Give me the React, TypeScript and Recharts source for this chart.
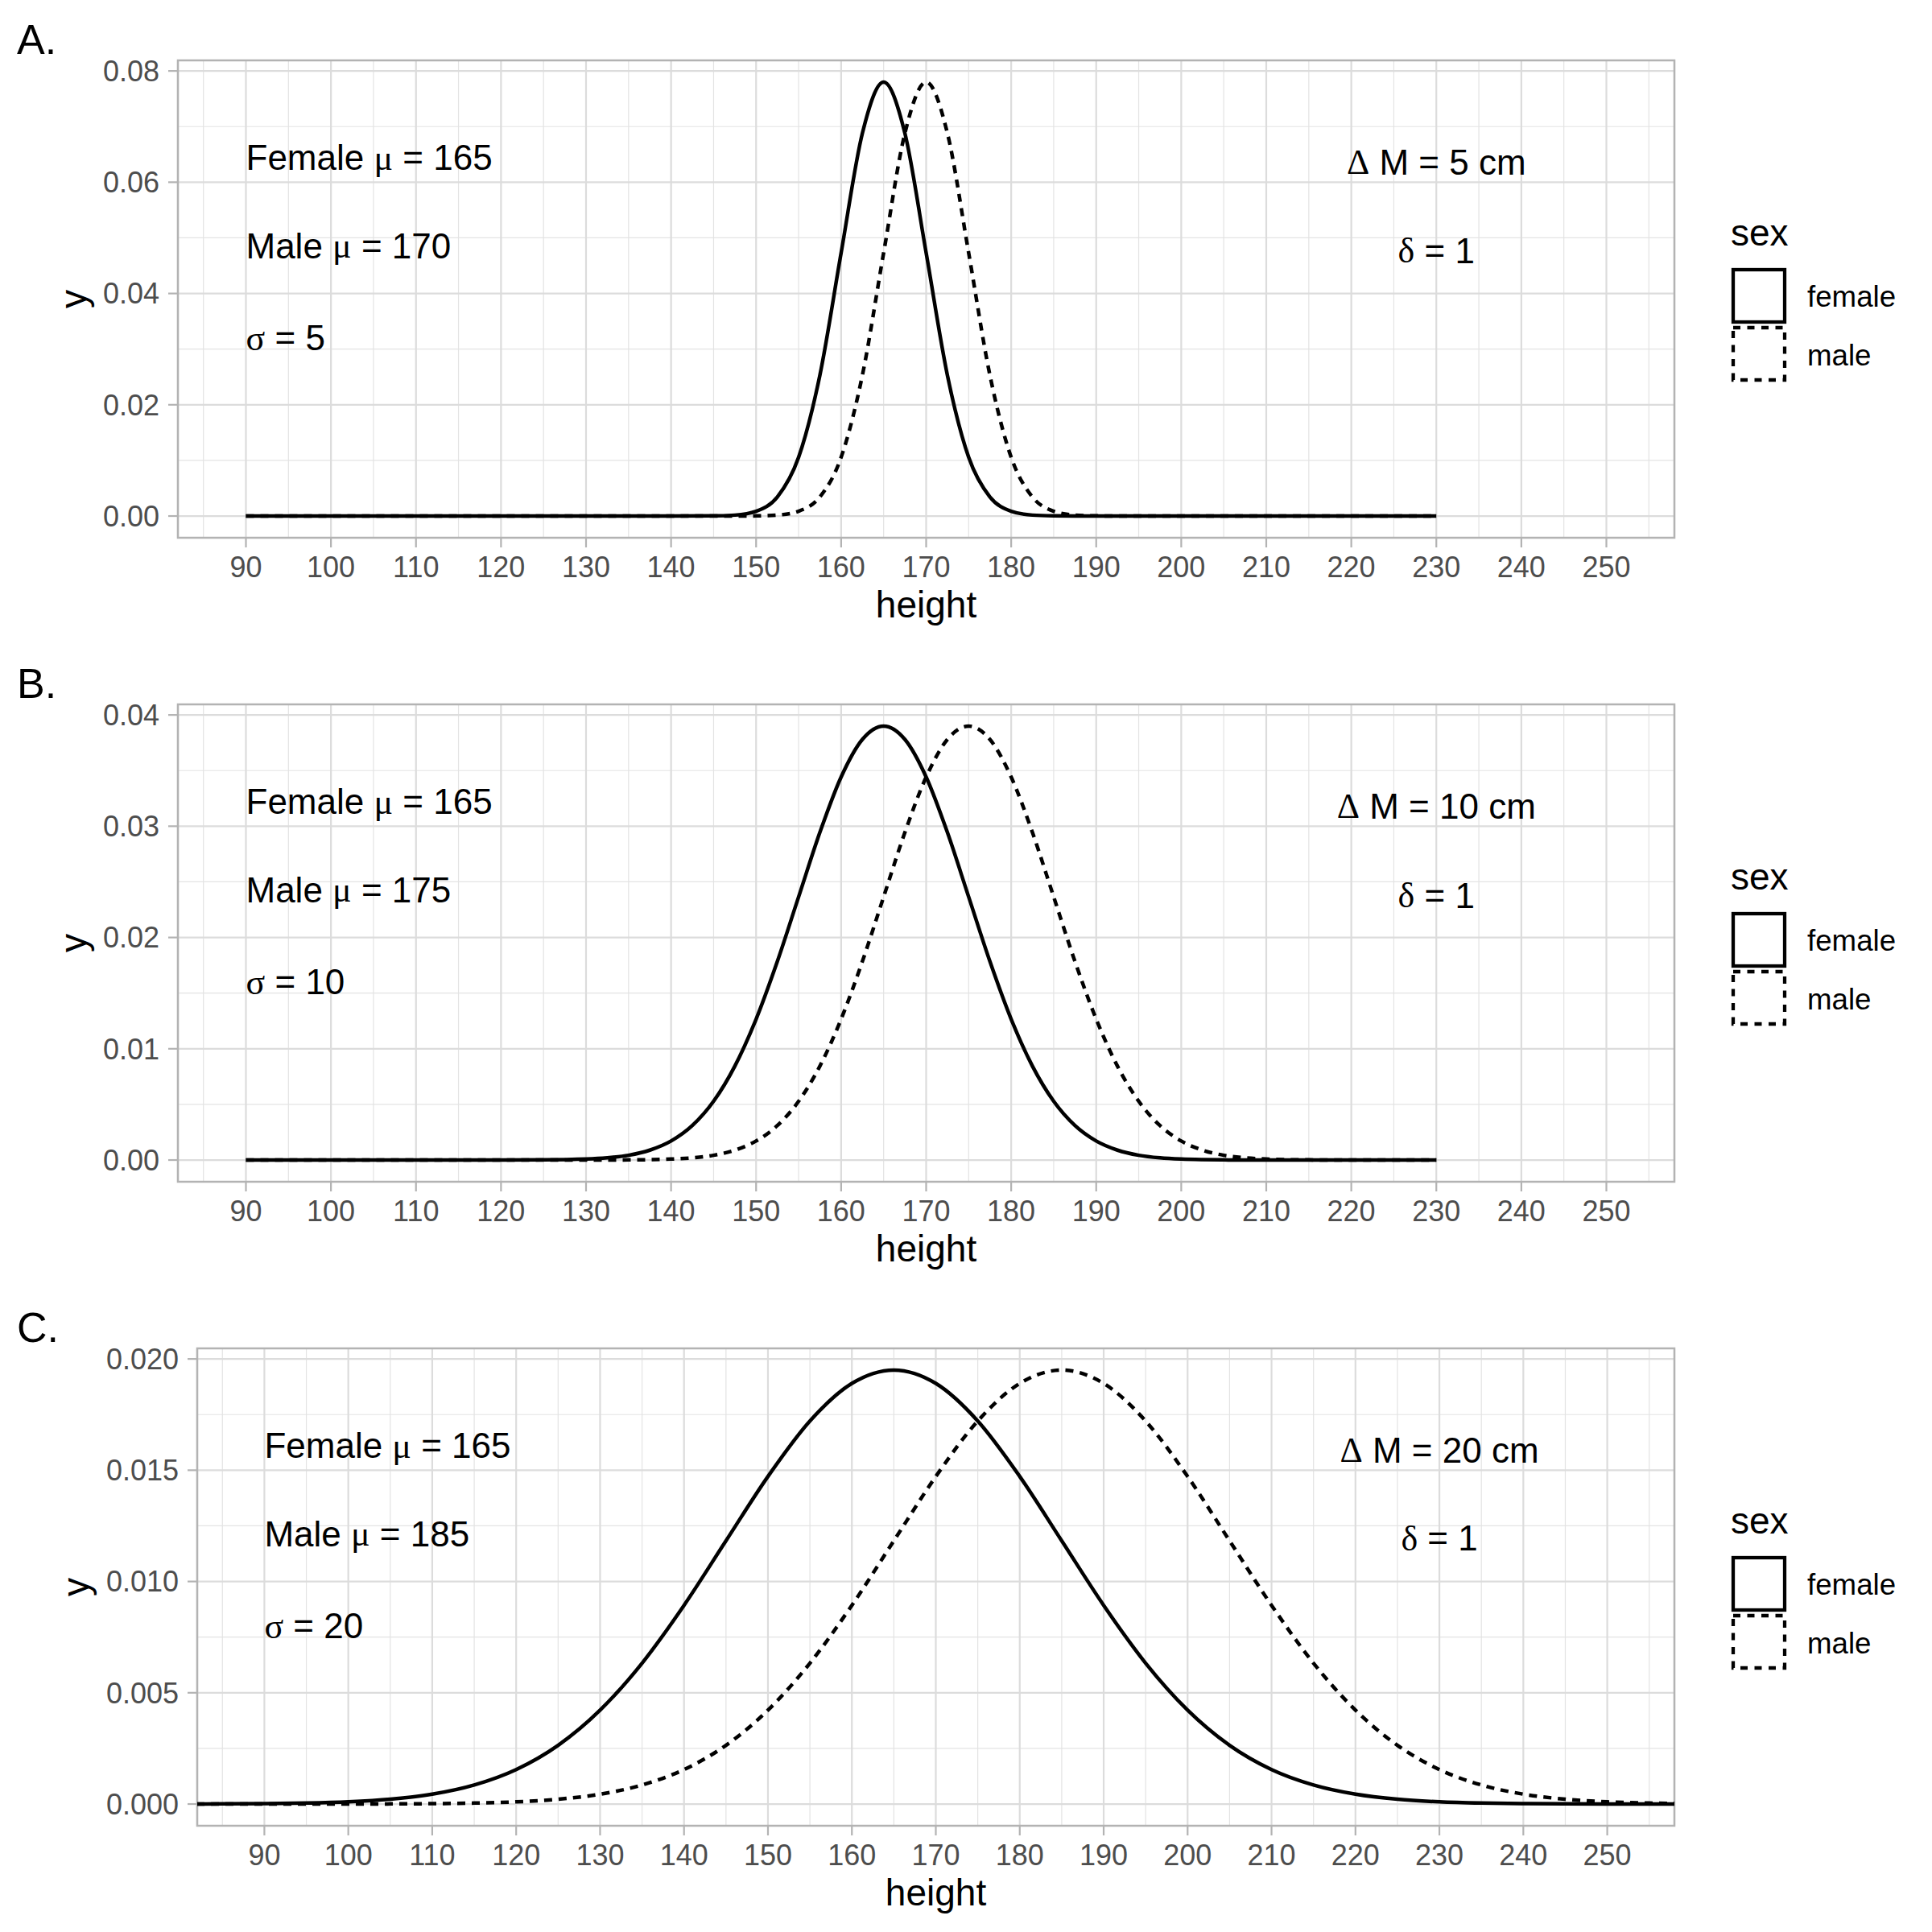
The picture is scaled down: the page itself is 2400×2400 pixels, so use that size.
import React from 'react'
import { LineChart, Line, XAxis, YAxis, CartesianGrid, ReferenceDot, ReferenceArea } from 'recharts'

const SANS = '"Liberation Sans", Arial, Helvetica, sans-serif'
const SERIF = '"Liberation Serif", "DejaVu Serif", serif'

// shared x axis
const X_DOMAIN = [82, 258]
const X_TICKS = [90, 100, 110, 120, 130, 140, 150, 160, 170, 180, 190, 200, 210, 220, 230, 240, 250]
const X_MINOR = [85, 95, 105, 115, 125, 135, 145, 155, 165, 175, 185, 195, 205, 215, 225, 235, 245, 255]

// panel A
const heightsA = [90, 100, 110, 120, 130, 140, 145, 147.5, 150, 152.5, 155, 157.5, 160, 162.5, 165, 167.5, 170, 172.5, 175, 177.5, 180, 182.5, 185, 187.5, 190, 192.5, 195, 200, 210, 220, 230]
const femaleA = [0, 0, 0, 0, 0, 0, 0.00003, 0.00017, 0.00087, 0.00343, 0.01056, 0.0253, 0.0473, 0.0688, 0.078, 0.0688, 0.0473, 0.0253, 0.01056, 0.00343, 0.00087, 0.00017, 0.00003, 0, 0, 0, 0, 0, 0, 0, 0]
const maleA = [0, 0, 0, 0, 0, 0, 0, 0, 0.00003, 0.00017, 0.00087, 0.00343, 0.01056, 0.0253, 0.0473, 0.0688, 0.078, 0.0688, 0.0473, 0.0253, 0.01056, 0.00343, 0.00087, 0.00017, 0.00003, 0, 0, 0, 0, 0, 0]

// panel B
const heightsB = [90, 95, 100, 105, 110, 115, 120, 125, 130, 132.5, 135, 137.5, 140, 142.5, 145, 147.5, 150, 152.5, 155, 157.5, 160, 162.5, 165, 167.5, 170, 172.5, 175, 177.5, 180, 182.5, 185, 187.5, 190, 192.5, 195, 197.5, 200, 202.5, 205, 207.5, 210, 212.5, 215, 217.5, 220, 225, 230]
const femaleB = [0, 0, 0, 0, 0, 0, 0.0000016, 0.000013, 0.000085, 0.000198, 0.00043, 0.000889, 0.00171, 0.0031, 0.00528, 0.00844, 0.01266, 0.01785, 0.02365, 0.02944, 0.03442, 0.0378, 0.039, 0.0378, 0.03442, 0.02944, 0.02365, 0.01785, 0.01266, 0.00844, 0.00528, 0.0031, 0.00171, 0.000889, 0.00043, 0.000198, 0.000085, 0.0000345, 0.000013, 0.0000047, 0.0000016, 0.0000005, 0.0000002, 0, 0, 0, 0]
const maleB = [0, 0, 0, 0, 0, 0, 0, 0, 0.0000016, 0.0000047, 0.000013, 0.0000345, 0.000085, 0.000198, 0.00043, 0.000889, 0.00171, 0.0031, 0.00528, 0.00844, 0.01266, 0.01785, 0.02365, 0.02944, 0.03442, 0.0378, 0.039, 0.0378, 0.03442, 0.02944, 0.02365, 0.01785, 0.01266, 0.00844, 0.00528, 0.0031, 0.00171, 0.000889, 0.00043, 0.000198, 0.000085, 0.0000345, 0.000013, 0.0000047, 0.0000016, 0.0000002, 0]

// panel C
const heightsC = [75, 80, 85, 90, 95, 100, 105, 110, 115, 120, 125, 130, 135, 140, 145, 150, 155, 160, 165, 170, 175, 180, 185, 190, 195, 200, 205, 210, 215, 220, 225, 230, 235, 240, 245, 250, 255, 260, 265]
const femaleC = [0.0000008, 0.0000023, 0.0000065, 0.0000172, 0.0000426, 0.0000992, 0.000217, 0.000444, 0.000857, 0.00155, 0.00264, 0.00422, 0.00633, 0.00893, 0.01183, 0.01472, 0.01721, 0.0189, 0.0195, 0.0189, 0.01721, 0.01472, 0.01183, 0.00893, 0.00633, 0.00422, 0.00264, 0.00155, 0.000857, 0.000444, 0.000217, 0.0000992, 0.0000426, 0.0000172, 0.0000065, 0.0000023, 0.0000008, 0.0000003, 0.0000001]
const maleC = [0, 0, 0.0000001, 0.0000003, 0.0000008, 0.0000023, 0.0000065, 0.0000172, 0.0000426, 0.0000992, 0.000217, 0.000444, 0.000857, 0.00155, 0.00264, 0.00422, 0.00633, 0.00893, 0.01183, 0.01472, 0.01721, 0.0189, 0.0195, 0.0189, 0.01721, 0.01472, 0.01183, 0.00893, 0.00633, 0.00422, 0.00264, 0.00155, 0.000857, 0.000444, 0.000217, 0.0000992, 0.0000426, 0.0000172, 0.0000065]

const panels = [
  {
    letter: 'A.', heights: heightsA, female: femaleA, male: maleA,
    yDomain: [-0.0039, 0.0819], yTicks: [0, 0.02, 0.04, 0.06, 0.08], yMinor: [0.01, 0.03, 0.05, 0.07], digits: 2,
    muF: '165', muM: '170', sigma: '5', dM: '5',
    noteY: [0.0644, 0.0486, 0.032, 0.0636, 0.0477],
  },
  {
    letter: 'B.', heights: heightsB, female: femaleB, male: maleB,
    yDomain: [-0.00195, 0.04095], yTicks: [0, 0.01, 0.02, 0.03, 0.04], yMinor: [0.005, 0.015, 0.025, 0.035], digits: 2,
    muF: '165', muM: '175', sigma: '10', dM: '10',
    noteY: [0.0322, 0.0243, 0.016, 0.0318, 0.0238],
  },
  {
    letter: 'C.', heights: heightsC, female: femaleC, male: maleC,
    yDomain: [-0.000975, 0.020475], yTicks: [0, 0.005, 0.01, 0.015, 0.02], yMinor: [0.0025, 0.0075, 0.0125, 0.0175], digits: 3,
    muF: '165', muM: '185', sigma: '20', dM: '20',
    noteY: [0.0161, 0.01215, 0.008, 0.0159, 0.01194],
  },
]

const note = (key: string, x: number, y: number, anchor: string, content: React.ReactNode) => (
  <ReferenceDot
    key={key}
    x={x}
    y={y}
    r={0}
    ifOverflow="visible"
    shape={(p: any) => (
      <text x={p.cx} y={p.cy} textAnchor={anchor} dominantBaseline="central" fontSize={44} fontFamily={SANS} fill="#000">
        {content}
      </text>
    )}
  />
)

function Panel({ p }: { p: (typeof panels)[number] }) {
  const data = p.heights.map((h, i) => ({ height: h, female: p.female[i], male: p.male[i] }))
  const yWidth = p.digits === 3 ? 245 : 221
  const tick = { fill: '#4D4D4D', fontSize: 36, fontFamily: SANS }
  return (
    <div style={{ position: 'relative', width: 2400, height: 800 }}>
      <LineChart width={2400} height={800} data={data} margin={{ top: 75, right: 320, bottom: 0, left: 0 }}>
        <XAxis xAxisId="minor" type="number" dataKey="height" domain={X_DOMAIN} ticks={X_MINOR} interval={0} allowDataOverflow hide />
        <YAxis yAxisId="minor" type="number" domain={p.yDomain} ticks={p.yMinor} interval={0} allowDataOverflow hide />
        <CartesianGrid xAxisId="minor" yAxisId="minor" stroke="#E3E3E3" strokeWidth={1.2} />
        <CartesianGrid stroke="#DCDCDC" strokeWidth={2.2} />
        <XAxis
          type="number"
          dataKey="height"
          domain={X_DOMAIN}
          ticks={X_TICKS}
          interval={0}
          allowDataOverflow
          height={132}
          axisLine={false}
          tickSize={12}
          tickMargin={11}
          tickLine={{ stroke: '#B3B3B3', strokeWidth: 2.2 }}
          tick={tick}
          label={{ value: 'height', position: 'insideBottom', offset: 33, fontSize: 46, fill: '#000', fontFamily: SANS }}
        />
        <YAxis
          type="number"
          domain={p.yDomain}
          ticks={p.yTicks}
          interval={0}
          allowDataOverflow
          width={yWidth}
          axisLine={false}
          tickSize={12}
          tickMargin={11}
          tickLine={{ stroke: '#B3B3B3', strokeWidth: 2.2 }}
          tick={tick}
          tickFormatter={(v: number) => v.toFixed(p.digits)}
          label={{
            content: (lp: any) => {
              const vb = lp.viewBox || {}
              const cx = p.digits === 3 ? 110 : 107
              const cy = (vb.y ?? 75) + (vb.height ?? 592) / 2
              return (
                <text x={cx} y={cy} transform={`rotate(-90 ${cx} ${cy})`} textAnchor="middle" fontSize={46} fontFamily={SANS} fill="#000">
                  y
                </text>
              )
            },
          }}
        />
        <ReferenceArea x1={X_DOMAIN[0]} x2={X_DOMAIN[1]} y1={p.yDomain[0]} y2={p.yDomain[1]} fill="none" fillOpacity={0} stroke="#B3B3B3" strokeWidth={2.5} ifOverflow="visible" />
        <Line type="monotone" dataKey="female" stroke="#000" strokeWidth={4.5} dot={false} activeDot={false} isAnimationActive={false} />
        <Line type="monotone" dataKey="male" stroke="#000" strokeWidth={4.5} strokeDasharray="10 8" dot={false} activeDot={false} isAnimationActive={false} />
        {note('f', 90, p.noteY[0], 'start', <>Female <tspan fontFamily={SERIF}>μ</tspan> = {p.muF}</>)}
        {note('m', 90, p.noteY[1], 'start', <>Male <tspan fontFamily={SERIF}>μ</tspan> = {p.muM}</>)}
        {note('s', 90, p.noteY[2], 'start', <><tspan fontFamily={SERIF}>σ</tspan> = {p.sigma}</>)}
        {note('d', 230, p.noteY[3], 'middle', <><tspan fontFamily={SERIF}>Δ</tspan> M = {p.dM} cm</>)}
        {note('e', 230, p.noteY[4], 'middle', <><tspan fontFamily={SERIF}>δ</tspan> = 1</>)}
      </LineChart>
      <svg width={2400} height={800} style={{ position: 'absolute', left: 0, top: 0, pointerEvents: 'none' }}>
        <text x={21} y={67} fontSize={52} fontFamily={SANS} fill="#000">{p.letter}</text>
        <text x={2150} y={305} fontSize={46} fontFamily={SANS} fill="#000">sex</text>
        <rect x={2153} y={335} width={64} height={65} fill="none" stroke="#000" strokeWidth={4.3} />
        <rect x={2153} y={407} width={64} height={65} fill="none" stroke="#000" strokeWidth={4.3} strokeDasharray="9 8.5" />
        <text x={2245} y={381} fontSize={36.7} fontFamily={SANS} fill="#000">female</text>
        <text x={2245} y={454} fontSize={36.7} fontFamily={SANS} fill="#000">male</text>
      </svg>
    </div>
  )
}

export default function App() {
  return (
    <div style={{ position: 'absolute', left: 0, top: 0, width: 2400, height: 2400, background: '#fff' }}>
      {panels.map((p) => (
        <Panel key={p.letter} p={p} />
      ))}
    </div>
  )
}
